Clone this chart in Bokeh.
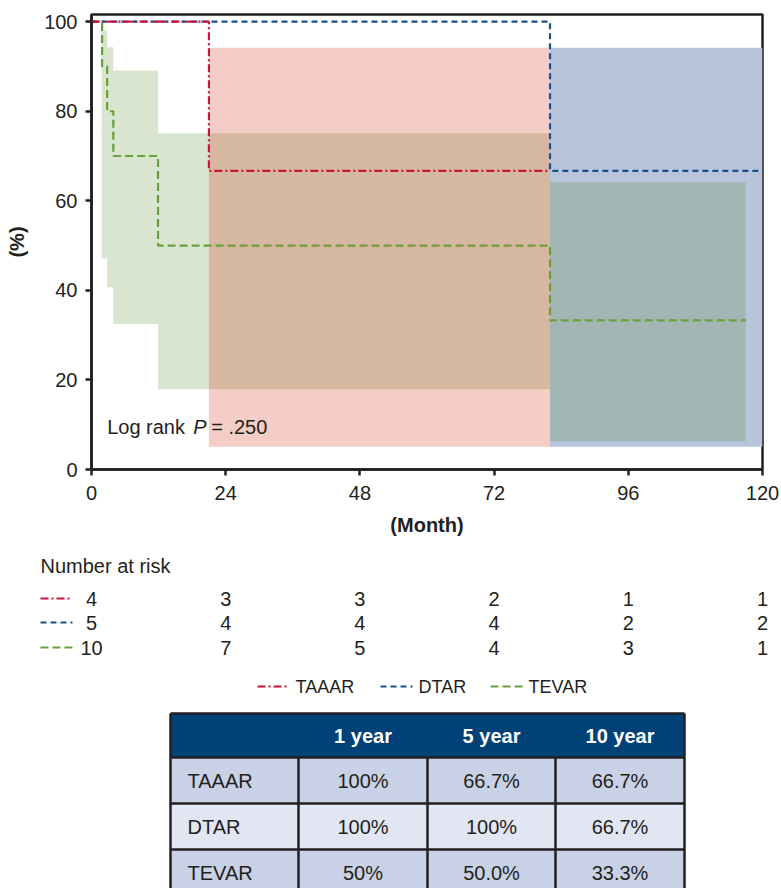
from bokeh.plotting import figure
from bokeh.layouts import column
from bokeh.models import Range1d, FixedTicker, Label
from bokeh.core.properties import value
from bokeh.embed import file_html
from bokeh.resources import INLINE

# ---------------- data ----------------
groups = ["TAAAR", "DTAR", "TEVAR"]

taaar_t = [0, 21, 82]
taaar_s = [100, 66.7, 66.7]
dtar_t = [0, 82, 120]
dtar_s = [100, 66.7, 66.7]
tevar_t = [0, 1.9, 2.8, 3.9, 11.9, 82, 117]
tevar_s = [100, 90, 80, 70, 50, 33.3, 33.3]

taaar_ci_t = [21, 82]
taaar_ci_lo = [5.1, 5.1]
taaar_ci_hi = [94.2, 94.2]
dtar_ci_t = [82, 120]
dtar_ci_lo = [5.1, 5.1]
dtar_ci_hi = [94.2, 94.2]
tevar_ci_t = [1.8, 2.8, 3.9, 11.9, 82, 117]
tevar_ci_lo = [47.1, 40.7, 32.5, 17.9, 6.3, 6.3]
tevar_ci_hi = [98.0, 94.3, 89.1, 75.1, 64.1, 64.1]

x_ticks = [0, 24, 48, 72, 96, 120]
y_ticks = [0, 20, 40, 60, 80, 100]

risk_times = [0, 24, 48, 72, 96, 120]
risk_taaar = [4, 3, 3, 2, 1, 1]
risk_dtar = [5, 4, 4, 4, 2, 2]
risk_tevar = [10, 7, 5, 4, 3, 1]

table_header = ["", "1 year", "5 year", "10 year"]
table_taaar = ["100%", "66.7%", "66.7%"]
table_dtar = ["100%", "100%", "66.7%"]
table_tevar = ["50%", "50.0%", "33.3%"]

# ---------------- style ----------------
FONT = value("Liberation Sans")
AX = "#231f20"
RED, BLUE, GREEN = "#cf1140", "#1b4f8a", "#69a03a"
DASH = {"TAAAR": "8 3 2 3", "DTAR": "6 4", "TEVAR": "8 4"}
COL = {"TAAAR": RED, "DTAR": BLUE, "TEVAR": GREEN}


def no_align(fig):
    try:
        fig.frame_align = False
    except Exception:
        pass


# ---------------- main KM plot ----------------
p = figure(width=781, height=540, x_range=Range1d(0, 120), y_range=Range1d(0, 101.6),
           output_backend="svg", toolbar_location=None,
           min_border_left=91, min_border_right=19, min_border_top=14, min_border_bottom=71)
no_align(p)
p.background_fill_color = "white"
p.border_fill_color = "white"
p.grid.visible = False
p.outline_line_color = AX
p.outline_line_width = 2.5
p.outline_line_alpha = 1

for ax in (p.xaxis, p.yaxis):
    ax.axis_line_color = AX
    ax.axis_line_width = 2.5
    ax.major_tick_line_color = AX
    ax.major_tick_line_width = 2.5
    ax.major_tick_out = 6
    ax.major_tick_in = 0
    ax.minor_tick_line_color = None
    ax.major_label_text_font = "Liberation Sans"
    ax.major_label_text_font_size = "20px"
    ax.major_label_text_color = AX
    ax.axis_label_text_font = "Liberation Sans"
    ax.axis_label_text_font_size = "20px"
    ax.axis_label_text_font_style = "bold"
    ax.axis_label_text_color = AX

p.xaxis.ticker = FixedTicker(ticks=x_ticks)
p.yaxis.ticker = FixedTicker(ticks=y_ticks)
p.xaxis.axis_label = "(Month)"
p.yaxis.axis_label = "(%)"
p.xaxis.major_label_standoff = 10
p.yaxis.major_label_standoff = 8
p.xaxis.axis_label_standoff = 11
p.yaxis.axis_label_standoff = 13

# confidence bands
p.varea_step(x=dtar_ci_t, y1=dtar_ci_lo, y2=dtar_ci_hi, step_mode="after",
             fill_color="#b8c4dc", fill_alpha=1.0)
p.varea_step(x=tevar_ci_t, y1=tevar_ci_lo, y2=tevar_ci_hi, step_mode="after",
             fill_color="#5a8e2e", fill_alpha=0.23)
p.varea_step(x=taaar_ci_t, y1=taaar_ci_lo, y2=taaar_ci_hi, step_mode="after",
             fill_color="#cd1c00", fill_alpha=0.22)

# survival curves
p.step(tevar_t, tevar_s, mode="after", line_color=GREEN, line_width=2.2, line_dash=DASH["TEVAR"])
p.step(dtar_t, dtar_s, mode="after", line_color=BLUE, line_width=2.2, line_dash=DASH["DTAR"])
p.step(taaar_t, taaar_s, mode="after", line_color=RED, line_width=2.2, line_dash=DASH["TAAAR"])

# log rank text
p.add_layout(Label(x=2.8, y=9.4, text="Log rank", text_font="Liberation Sans",
                   text_font_size="20px", text_baseline="middle", text_color=AX))
p.add_layout(Label(x=2.8, y=9.4, x_offset=86, text="P", text_font="Liberation Sans",
                   text_font_style="italic", text_font_size="20px", text_baseline="middle",
                   text_color=AX))
p.add_layout(Label(x=2.8, y=9.4, x_offset=104, text="= .250", text_font="Liberation Sans",
                   text_font_size="20px", text_baseline="middle", text_color=AX))

# ---------------- lower panel: risk table, legend, summary table ----------------
# canvas coordinates follow page pixels
X0, PX_PER_MONTH = 91, 671 / 120
q = figure(width=781, height=348, x_range=Range1d(0, 781), y_range=Range1d(888, 540),
           output_backend="svg", toolbar_location=None, min_border=0,
           x_axis_type=None, y_axis_type=None)
no_align(q)
q.grid.visible = False
q.outline_line_color = None
q.background_fill_color = "white"
q.border_fill_color = "white"

q.text(x=[40], y=[565], text=["Number at risk"], text_font=FONT, text_font_size="20px",
       text_baseline="middle", text_color=AX)

risk_x = [X0 + t * PX_PER_MONTH for t in risk_times]
for g, vals, yy in zip(groups, [risk_taaar, risk_dtar, risk_tevar], [598, 622, 647]):
    q.segment(x0=[40], x1=[72], y0=[yy], y1=[yy], line_color=COL[g], line_width=2.2,
              line_dash=DASH[g])
    q.text(x=risk_x, y=[yy] * len(vals), text=[str(v) for v in vals], text_font=FONT,
           text_font_size="20px", text_align="center", text_baseline="middle", text_color=AX)

# legend
leg_x = [257, 380, 490]
for g, lx in zip(groups, leg_x):
    q.segment(x0=[lx], x1=[lx + 32], y0=[686], y1=[686], line_color=COL[g], line_width=2.2,
              line_dash=DASH[g])
    q.text(x=[lx + 38], y=[686], text=[g], text_font=FONT, text_font_size="18px",
           text_baseline="middle", text_color=AX)

# summary table
COL_EDGES = [170, 298, 427, 555, 684]
ROW_EDGES = [713, 757, 803, 849, 895]
row_fill = ["#c8d1e6", "#e1e6f2", "#c8d1e6"]
q.quad(left=[COL_EDGES[0]], right=[COL_EDGES[-1]], top=[ROW_EDGES[0]], bottom=[ROW_EDGES[1]],
       fill_color="#004178", line_color=None)
q.quad(left=[COL_EDGES[0]] * 3, right=[COL_EDGES[-1]] * 3, top=ROW_EDGES[1:4],
       bottom=ROW_EDGES[2:5], fill_color=row_fill, line_color=None)
q.segment(x0=[COL_EDGES[0]] * 4, x1=[COL_EDGES[-1]] * 4, y0=ROW_EDGES[0:4], y1=ROW_EDGES[0:4],
          line_color=AX, line_width=2.5)
q.segment(x0=COL_EDGES[1:4], x1=COL_EDGES[1:4], y0=[ROW_EDGES[1]] * 3, y1=[ROW_EDGES[-1]] * 3,
          line_color=AX, line_width=2.5)
q.segment(x0=[COL_EDGES[0], COL_EDGES[-1]], x1=[COL_EDGES[0], COL_EDGES[-1]],
          y0=[ROW_EDGES[0]] * 2, y1=[ROW_EDGES[-1]] * 2, line_color=AX, line_width=2.5)

col_centers = [(a + b) / 2 for a, b in zip(COL_EDGES[:-1], COL_EDGES[1:])]
row_centers = [(a + b) / 2 for a, b in zip(ROW_EDGES[:-1], ROW_EDGES[1:])]
q.text(x=col_centers[1:], y=[row_centers[0]] * 3, text=table_header[1:], text_font=FONT,
       text_font_size="20px", text_font_style="bold", text_color="white",
       text_align="center", text_baseline="middle")
for g, vals, yy in zip(groups, [table_taaar, table_dtar, table_tevar], row_centers[1:]):
    q.text(x=[COL_EDGES[0] + 17], y=[yy], text=[g], text_font=FONT, text_font_size="20px",
           text_baseline="middle", text_color=AX)
    q.text(x=col_centers[1:], y=[yy] * 3, text=vals, text_font=FONT, text_font_size="20px",
           text_align="center", text_baseline="middle", text_color=AX)

layout = column(p, q, spacing=0)
open("out.html", "w").write(file_html(layout, INLINE))
